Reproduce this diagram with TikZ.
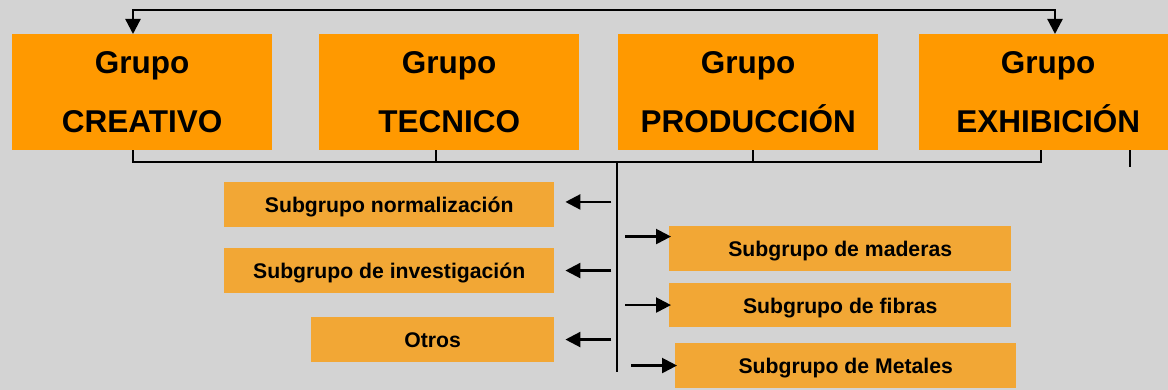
\documentclass[tikz,border=0pt]{standalone}
\usepackage{fontspec}
\setmainfont{Liberation Sans}
\usetikzlibrary{arrows.meta}
\definecolor{bg}{HTML}{D3D3D3}
\definecolor{grp}{HTML}{FF9900}
\definecolor{sub}{HTML}{F2A735}
\begin{document}
\begin{tikzpicture}[x=1pt,y=-1pt,
  grpbox/.style={fill=grp, inner sep=0pt, minimum width=260pt, minimum height=116pt,
     align=center, font=\bfseries\fontsize{31.5}{59}\selectfont, anchor=north west},
  subbox/.style={fill=sub, inner sep=0pt, minimum height=44.7pt,
     text height=16pt, text depth=0pt, font=\bfseries\fontsize{21.2}{24}\selectfont, anchor=north west},
  conn/.style={line width=2.3pt, black},
  tipc/.style={conn, -{Triangle[length=15pt,width=15pt]}}
  ]
\useasboundingbox (0,0) rectangle (1168,390);
\fill[bg] (0,0) rectangle (1168,390);
\begin{scope}
\clip (0,0) rectangle (1168,390);
\node[grpbox] (creativo) at (12,34) {Grupo\\CREATIVO};
\node[grpbox] (tecnico) at (319,34) {Grupo\\TECNICO};
\node[grpbox] (produccion) at (618,34) {Grupo\\PRODUCCIÓN};
\node[grpbox, minimum width=258pt] (exhib) at (919,34) {Grupo\\EXHIBICIÓN};
\end{scope}

\node[subbox, minimum width=330pt] (norm) at (224,182) {Subgrupo normalización};
\node[subbox, minimum width=330pt] (inv) at (224,248) {Subgrupo de investigación};
\node[subbox, minimum width=243pt] (otros) at (311,317) {Otros};
\node[subbox, minimum width=342pt] (mad) at (669,226) {Subgrupo de maderas};
\node[subbox, minimum width=342pt] (fib) at (669,282.5) {Subgrupo de fibras};
\node[subbox, minimum width=341pt] (met) at (675,343) {Subgrupo de Metales};

% top bracket
\draw[conn, {Triangle[length=15pt,width=15pt]}-{Triangle[length=15pt,width=15pt]}]
  ([xshift=121pt]creativo.north west) -- ++(0,-24) -| ([xshift=136pt]exhib.north west);

% bottom bus
\coordinate (bus) at (617,161.5);
\coordinate (busend) at (617,372);
\draw[conn] ([xshift=121pt]creativo.south west) -- ++(0,11.5) -| ([xshift=122pt]exhib.south west);
\draw[conn] ([xshift=117pt]tecnico.south west) -- ++(0,11.5);
\draw[conn] ([xshift=135pt]produccion.south west) -- ++(0,11.5);
\draw[conn] ([xshift=211pt]exhib.south west) -- ++(0,17);
\draw[conn] (bus) -- (busend);

% left arrows
\draw[tipc] ([xshift=57pt,yshift=2.6pt]norm.east) -- ([xshift=11pt,yshift=2.6pt]norm.east);
\draw[tipc] ([xshift=57pt]inv.east) -- ([xshift=11pt]inv.east);
\draw[tipc] ([xshift=57pt]otros.east) -- ([xshift=11pt]otros.east);

% right arrows
\draw[tipc] ([xshift=-44pt,yshift=12pt]mad.west) -- ([xshift=2pt,yshift=12pt]mad.west);
\draw[tipc] ([xshift=-44pt]fib.west) -- ([xshift=2pt]fib.west);
\draw[tipc] ([xshift=-44pt]met.west) -- ([xshift=2pt]met.west);
\end{tikzpicture}
\end{document}
